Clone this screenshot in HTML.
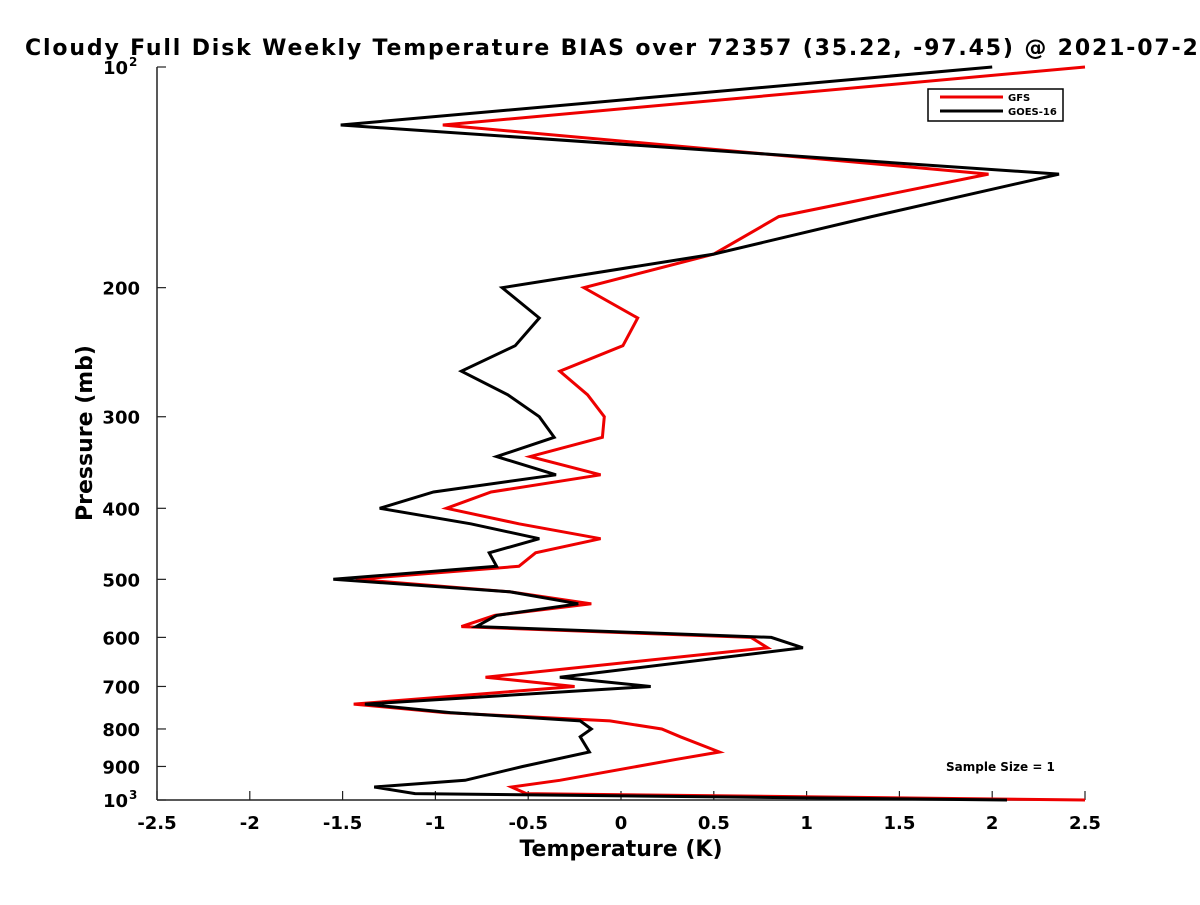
<!DOCTYPE html>
<html><head><meta charset="utf-8"><style>
body{margin:0;background:#fff}
svg text{font-family:"DejaVu Sans","Liberation Sans",sans-serif;font-weight:bold}
</style></head><body>
<svg id="chart" width="1200" height="900" viewBox="0 0 1200 900" xmlns="http://www.w3.org/2000/svg">
<text x="25" y="55" font-size="22" textLength="1190" lengthAdjust="spacing">Cloudy Full Disk Weekly Temperature BIAS over 72357 (35.22, -97.45) @ 2021-07-20</text>
<g id="axes"></g>
<g id="series"></g>
<g>
<rect x="928" y="89" width="135" height="32" fill="#fff" stroke="#000" stroke-width="1.5"/>
<line x1="940" y1="97" x2="1003" y2="97" stroke="#e00" stroke-width="3"/>
<text x="1008" y="101" font-size="10">GFS</text>
<line x1="940" y1="111" x2="1003" y2="111" stroke="#000" stroke-width="3"/>
<text x="1008" y="115" font-size="10">GOES-16</text>
</g>
<text x="946" y="771" font-size="12">Sample Size = 1</text>
<text x="621" y="856" font-size="22" text-anchor="middle">Temperature (K)</text>
<text transform="translate(92,433) rotate(-90)" font-size="22" text-anchor="middle">Pressure (mb)</text>
</svg>
<script>
const xTicks=[-2.5,-2,-1.5,-1,-0.5,0,0.5,1,1.5,2,2.5];
const xTickLabels=["-2.5","-2","-1.5","-1","-0.5","0","0.5","1","1.5","2","2.5"];
const yTicks=[200,300,400,500,600,700,800,900];
const gfsP=[100,120,140,160,180,200,220,240,260,280,300,320,340,360,380,400,420,440,460,480,500,520,540,560,580,600,620,680,700,740,760,780,800,820,860,880,940,960,980,1000];
const gfsT=[2.5,-0.96,1.98,0.85,0.50,-0.20,0.09,0.01,-0.33,-0.18,-0.09,-0.10,-0.49,-0.11,-0.70,-0.94,-0.55,-0.11,-0.46,-0.55,-1.43,-0.60,-0.16,-0.68,-0.86,0.70,0.79,-0.73,-0.25,-1.44,-0.95,-0.06,0.22,0.32,0.53,0.30,-0.33,-0.59,-0.51,2.5];
const goesP=[100,120,140,160,180,200,220,240,260,280,300,320,340,360,380,400,420,440,460,480,500,520,540,560,580,600,620,680,700,740,760,780,800,820,860,900,940,960,980,1000];
const goesT=[2.00,-1.51,2.36,1.35,0.50,-0.64,-0.44,-0.57,-0.86,-0.61,-0.44,-0.36,-0.67,-0.35,-1.01,-1.30,-0.81,-0.44,-0.71,-0.67,-1.55,-0.60,-0.23,-0.67,-0.78,0.81,0.98,-0.33,0.16,-1.38,-0.92,-0.22,-0.16,-0.22,-0.17,-0.53,-0.84,-1.33,-1.11,2.08];
const X0=157,X1=1085,Y0=67,Y1=800;
const xs=t=>X0+(t+2.5)/5*(X1-X0);
const ys=p=>Y0+(Math.log10(p)-2)*(Y1-Y0);
const NS="http://www.w3.org/2000/svg";
function mk(tag,attrs,parent){const e=document.createElementNS(NS,tag);for(const k in attrs)e.setAttribute(k,attrs[k]);parent.appendChild(e);return e;}
const ax=document.getElementById('axes');
let l=mk('line',{x1:X0,y1:Y1,x2:X1,y2:Y1,stroke:'#222','stroke-width':1.5},ax);


l=mk('line',{x1:X0,y1:Y0,x2:X0,y2:Y1,stroke:'#222','stroke-width':1.5},ax);


xTicks.forEach((t,i)=>{
  const x=xs(t);
  const tk=mk('line',{x1:x,y1:Y1,x2:x,y2:Y1-9,stroke:'#222','stroke-width':1.2},ax);
  
  
  const tx=mk('text',{x:x,y:829,'font-size':18,'text-anchor':'middle'},ax);
  tx.textContent=xTickLabels[i];
  
  
});
[100,1000].concat(yTicks).forEach(p=>{
  const y=ys(p);
  const tk=mk('line',{x1:X0,y1:y,x2:X0+9,y2:y,stroke:'#222','stroke-width':1.2},ax);
  
  
});
yTicks.forEach(p=>{
  const tx=mk('text',{x:140,y:ys(p)+7,'font-size':18,'text-anchor':'end'},ax);
  tx.textContent=String(p);
  
  
});
[[100,"2"],[1000,"3"]].forEach(([p,e])=>{
  const tx=mk('text',{x:128,y:ys(p)+7,'font-size':18,'text-anchor':'end'},ax);
  tx.textContent="10";
  
  
  const sp=mk('text',{x:129,y:ys(p)-1,'font-size':12},ax);
  sp.textContent=e;
  
  
});
const sg=document.getElementById('series');
function line(T,P,color,name){
  const pts=T.map((t,i)=>xs(t).toFixed(1)+','+ys(P[i]).toFixed(1)).join(' ');
  const pl=mk('polyline',{points:pts,fill:'none',stroke:color,'stroke-width':3,'stroke-linejoin':'miter'},sg);
  
  
}
line(gfsT,gfsP,'#e00','gfs-line');
line(goesT,goesP,'#000','goes16-line');
</script>
</body></html>
